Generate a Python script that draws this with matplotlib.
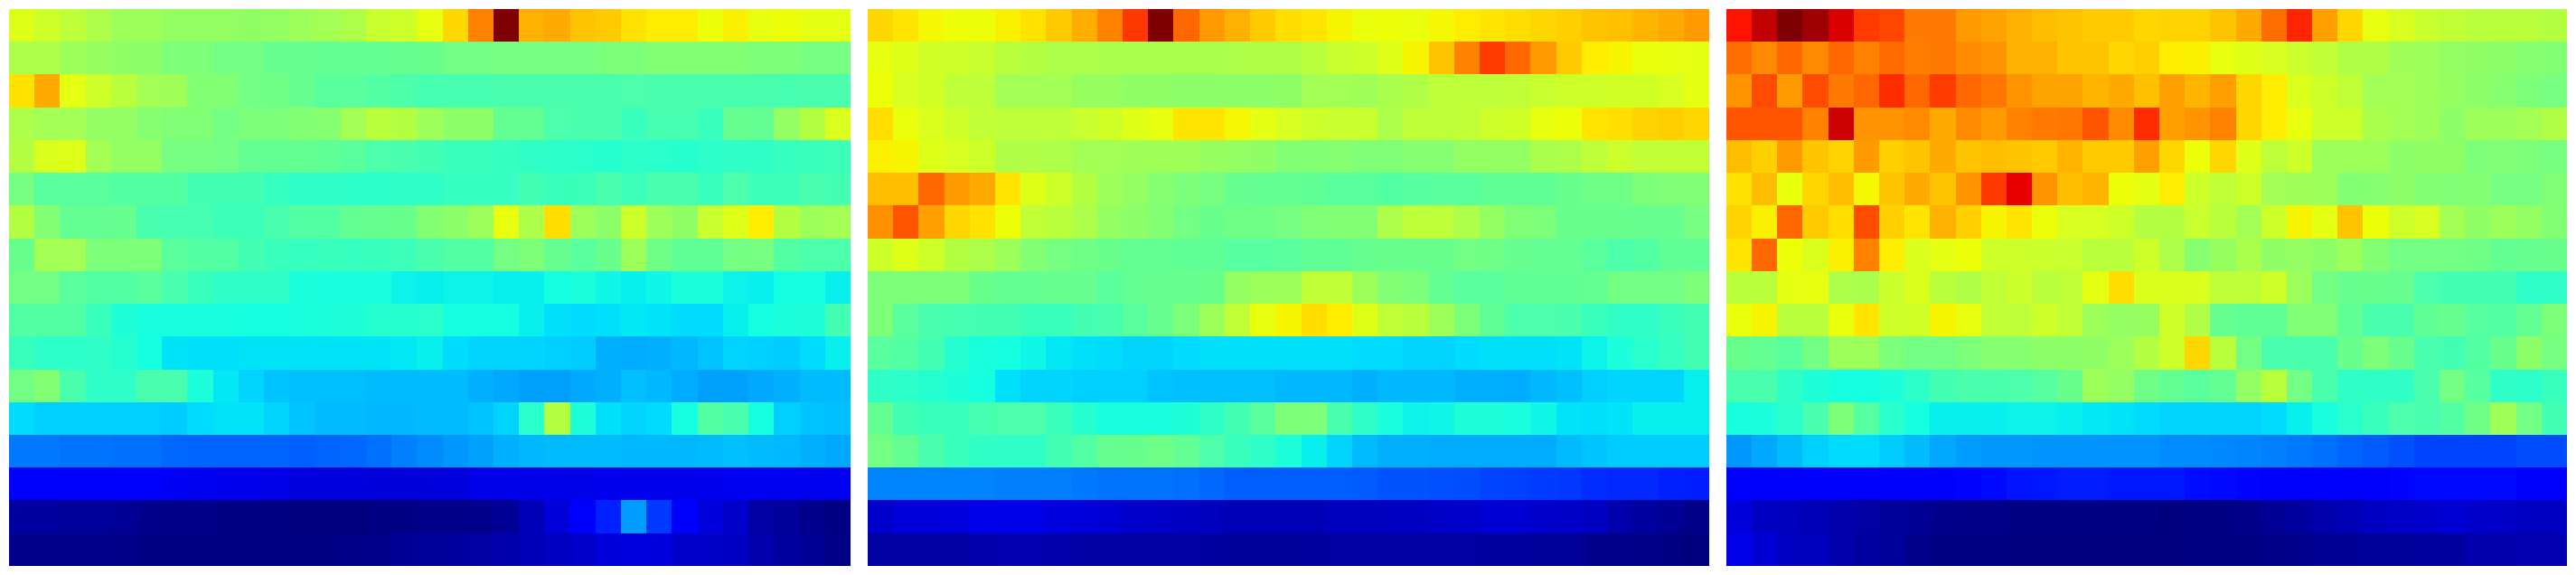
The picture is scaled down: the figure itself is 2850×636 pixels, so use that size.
import numpy as np
import matplotlib
matplotlib.use('Agg')
import matplotlib.pyplot as plt

# values, 0-100 on the jet scale, one list per row
panel_a = [
    [62,60,58,56,54,54,53,53,53,52.5,53,54,55,56,59,60,63, 68,77,100,72,73,70,69.5,67,66,66,64,65.5,63,64,62.5,62.5],
    [56,56,54,53.5,52.5,52,50,50,49,49,47.5,47.5,47,47,47,47.5,48, 49,49,49.5,49.5,49.5,49.5,50,50,51,51,51,51,50,50,49.5,49.5],
    [67,73,62.5,60,57.5,55,54.5,51,51,49,48.5,47.5,46,46,45,44.5,43.5, 43.5,43.5,44,44,44,44,44,44.5,44,44,44,44,44,43.5,44,44],
    [56,55,55,53,53,51.5,50.5,50.5,49,50,50,51,51.5,55,57.5,57,54, 52,52,47,47,44.5,44,44,42,43.5,43.5,42,47.5,47,53,57,61.5],
    [57,61.5,62,55,53,53,49.5,49.5,49,47,47,47,46.5,46,44.5,44,43, 42,42,41.5,41,40.5,40,39.5,40.5,40,39.5,40.5,41,41,41.5,42,42.5],
    [49.5,46,46,46,45,45,45,43,43,43,41.5,41,41,40.5,40.5,41,41, 41.5,41.5,41.5,43,42,42.5,44,42.5,44,44,42,44.5,42.5,42.5,44,43],
    [57,51,47,47,47.5,44,43.5,43.5,42.5,42.5,44,45,45,47,47.5,48,51, 52,54,63,56,67.5,54,52,60,54,52.5,59,62,66,57,54,55],
    [48,55,55,50,50,50,46,45,45,43,42,41.5,42,41.5,42,42.5,44, 45,45,49,50,47.5,46,48,54,48.5,46.5,46.5,49,49.5,45,44.5,44.5],
    [49,49,46,45,45,46,44,42,41,41,41,38.5,38,38,38,36.5,36, 36.5,36.5,36,36,37.5,38.5,37,36,37,38.5,38.5,36.5,36,37.5,37.5,36],
    [45,45,45,42,39,38,38,38,38,37.5,37.5,38,38.5,39,39.5,39.5,40, 37.5,37.5,37.5,36,34.5,34,34.5,35.5,35,34,34,36,37.5,38.5,39,43],
    [42,40.5,40.5,41,39.5,37.5,35,34.5,34.5,35,35,35,35,35,35,35.5,36, 34,33.5,33.5,33.5,33,32.5,30,29.5,30,30.5,32,33.5,33,32.5,34,36],
    [49,51,44,41,41,44,44,38.5,35.5,33.5,32,31.5,31.5,31.5,31,31,31, 31,30,29,28.5,28.5,29,30,31.5,30.5,29.5,28.5,28.5,29,30,31,31],
    [34,33,33,33,33,33,32.5,34,35,35,33.5,32,31,31,30.5,30.5,31, 31,32,33.5,40,57,39,34.5,33.5,34,37.5,45,44,37.5,33,32,31.5],
    [24.5,24.5,24,24,23.5,23.5,23,22.5,22.5,22.5,22.5,22,22.5,23,23.5,25,26.5, 27.5,28.5,30,30.5,31,31,31,30.5,30.5,30.5,31,31.5,31,30.5,30,29],
    [12.5,12,11,11,11,11,10.5,10,9.5,9.5,9,8.5,8.5,8.5,8,8,8, 8.5,9,9,9,9,9,9.5,9.5,9.5,9.5,9.5,10,10,10,10,10],
    [3,2.8,2.5,2.5,2,1.2,1,1,0.5,0.5,0.5,0,0,0,0.5,0.5,1, 1,1.5,2,5,8,11.5,16,28,18,11,8,7,3.5,2.5,1.5,0.5],
    [1.5,1.5,1.5,1.2,1,0.5,0.5,0.5,0.5,0.5,0.5,0.5,0.5,1,1.5,2,2.5, 3,3.5,4,5,6,7,8,8.5,8,7,6.5,6,4,3,2,1],
]

panel_b = [
    [68,66.5,64.5,64,64,65.5,67,69.5,72.5,77,85,100,80,74.5,72,69.5,67.5, 66.5,65,63.5,64,63.5,64.5,66,66.5,67.5,68,69,70,70.5,71.5,73,74.5],
    [63,62,60.5,60,59,57.5,57,56,56,55.5,55.5,55.5,55.5,55.5,56,56.5,56.5, 57.5,59,60,62,65,70,77,84.5,80,74.5,69.5,66,65,63.5,63,62.5],
    [64,61,60.5,58,58,55,55,55,53.5,53.5,52.5,52.5,52,52,52,52,52.5, 55,55,54.5,55.5,56.5,58,58,58,58.5,59,60,60,60.5,60.5,61,62.5],
    [67.5,63.5,61.5,60,58.5,58,58,58,59,60.5,62,63,66.5,66.5,64.5,62.5,61, 60,59,59,56,58,58,58.5,60,60.5,63,64,66.5,67.5,68.5,69,68],
    [65.5,65,62,61,60,56.5,56.5,56,55,55,54.5,54.5,54.5,53.5,53,52.5,51, 51,51.5,50.5,50.5,51.5,51.5,53,53,53,55.5,56,58,59.5,58.5,58.5,58.5],
    [71,71,80,74.5,73,66.5,62,60,57,54,53,51.5,50,49.5,47.5,47,47, 46.5,46,46,45,45.5,46,46,46.5,46.5,46.5,48,48.5,48.5,50,50.5,50.5],
    [75.5,82,74,68,67,64,58.5,57.5,56,53,52,51,49,48,48.5,48.5,49.5, 50.5,51,51,56,58,58,56,53,50.5,50,48,48,48,47.5,47.5,49.5],
    [60,62,60,57,56,54,51,49.5,48.5,48,47,47,46.5,46.5,45.5,45.5,46, 46.5,46.5,47.5,48,48,48,49,48.5,47.5,47,47,46,44.5,45,46.5,46.5],
    [50,50,50,50,48,47,47,47.5,47.5,46,47,47.5,47.5,48,53,54,54, 58.5,58.5,54,51,50,47,46,46,46.5,46.5,46.5,47,49,49,49,50],
    [50,46,44,43.5,43,43,42,42,43,44,46,47.5,50,54,58.5,63,65, 67.5,66,62,58.5,57.5,54,50,46.5,44.5,44.5,44,42,41,41,42,43],
    [46,45,43,39.5,38,37.5,37,35.5,34.5,34,33.5,33.5,34,34.5,34.5,34.5,34.5, 34.5,34.5,34,34,33.5,33.5,34,34.5,34.5,34.5,35,36.5,38.5,40,41.5,43],
    [41,40.5,39.5,39,37.5,34.5,33.5,33.5,33,33,33,32,31.5,31.5,31.5,31.5,30.5, 30.5,30.5,30,30.5,30.5,30.5,30,30,29.5,30.5,31.5,33,33.5,33.5,33.5,36],
    [47,43,42,42,43.5,44.5,44.5,42,39.5,38,38,38,39,41,43,46,50, 50,44,41,38,36.5,37,39,39,38,37,35,34.5,35,36,36,36],
    [49,47,44,42,41,41,41,43,45,47.5,48,48.5,47,44.5,42,41,38.5, 36,33.5,31,30,30,29.5,29.5,29.5,29.5,29.5,31,32,32.5,32.5,32.5,32.5],
    [25.5,25.5,25.5,25.5,25.5,25,25,25,24.5,24,24,24,23.5,23,22,22,22, 22,22,21.5,21,21,20.5,20,19.5,19,18.5,18,17,16.5,16.5,16,15.5],
    [7,8,8,8.5,9,9,9,8.5,8,7.5,7,6.5,6,5.5,5,5,5, 5,5.5,5.5,6,6,6.5,7,7.5,7.5,7,6.5,6,4,3,2,1],
    [3.5,3.5,3.5,3.5,4,4.5,4.5,4,3.5,3.5,3.5,3.5,3.5,3,2.5,2.5,2.5, 3,3.5,3.5,3.5,3.5,3.5,3.5,3,3,2.5,2.5,1.5,1.5,1,0.5,0],
]

panel_c = [
    [89,94,100,97,92,84.5,83.5,78,78,74.5,73.5,72,71,70,69.5,69.5,68, 68.5,68.5,70,73,79,87,74,68,63,61,59,58.5,57.5,57.5,57.5,57],
    [79,76.5,80,76.5,80,77,79.5,77.5,78,76,75,72,72,70,70,68,69, 66,65.5,63,62,61,59.5,58.5,56.5,56.5,54.5,54,53,52.5,52,51.5,51],
    [75,82.5,74.5,82.5,78,80,86,80,84.5,80,78.5,75,73.5,73.5,71.5,73,70.5, 74,71.5,74,68,66,61.5,60,58.5,55,55,54,53.5,52,51.5,50,49.5],
    [82,82,82,77,93,75,75,76,73,76,74.5,77,78,78.5,82,76.5,86, 74,75,77,68,66,63,60,60,55.5,55,54,52,54,54,55,56.5],
    [71,69,74.5,70,68.5,74.5,69,70,73,70,71,70,69.5,71.5,69.5,69.5,74, 68,64,68,62,58,60,54,54,54,52,52.5,52.5,50,50.5,50,49.5],
    [67,71,63.5,68,71,64.5,70,73,70,75,85,91,75,71,71.5,64,62.5, 66,60,58.5,60,55,54.5,54,51,51.5,52,51,50.5,51,49.5,49.5,50.5],
    [68.5,65.5,80,69.5,67.5,82.5,69,66.5,72,69,65,66.5,64,61,61,60,57, 57,59,57.5,55,60,65,62.5,70,64,60,61,55,52.5,54,53,51],
    [66.5,80,64,61.5,65.5,77,66,61.5,62.5,64,60,60,59.5,59,57.5,57.5,60, 56,51.5,53.5,55.5,52.5,53,52,54,51,49,49,49,48.5,47,47.5,48],
    [57.5,57.5,62.5,63,56,55.5,59.5,61.5,57.5,56.5,58.5,59.5,57.5,58.5,62.5,67.5,61.5, 61.5,61.5,58,58,60,54,49,47.5,48,47.5,44.5,43,43,43,41,41],
    [63.5,65,57.5,57.5,63.5,66.5,60,60.5,65,63,58.5,58,60,58.5,54,53,53.5, 60,56.5,47.5,46.5,46.5,50.5,50.5,46.5,44,44,46.5,47.5,45.5,45,47,50],
    [48,47,46,49,54,54,50,49,49,50,51.5,51.5,52,52,52.5,54,57, 60,68,57.5,49,44,44,44,48,50,48,44,43,45,48,52,49.5],
    [44,44,41,39,37.5,37.5,38.5,40.5,43,44,44,44.5,45.5,48,54,53,48.5, 47,46,47,53,57.5,49,44,41,41,41,44,49,45.5,41,40.5,42],
    [38,38.5,40,44,50,45.5,40,37.5,36,36,36,36.5,36.5,36,35.5,35,34, 33.5,33.5,33.5,33.5,34,36,38,40,42,44.5,44,45,48.5,54.5,49,43],
    [27.5,29,31,33,34,34,32.5,31,29,28,27.5,27.5,27,27,27,27,27, 26.5,26.5,26,25.5,25,24.5,23.5,22.5,21.5,20.5,19.5,19.5,19.5,19.5,20,20],
    [12.5,12,11.5,11.5,11,11,11.5,12,12.5,13,13.5,14.5,15,15.5,15.5,15,15, 15,14,13.5,13,12.5,12.5,12.5,12.5,12.5,13,13.5,13.5,13.5,13.5,12.5,12.5],
    [8,6,5.5,5,4,3.5,2.5,2,1.5,1,1,0.5,0.5,0.5,0.5,0.5,0.5, 0,0.5,0.5,1,2,3,4,5,6,6.5,7,7.5,7,6.5,6,6],
    [9,7.5,6,5.5,4,3,2.5,1.5,0.5,0.5,0.5,0,0,0,0,0,0, 0,0.5,0.5,0.5,1,1.5,2,2,2.5,2.5,3,3,4,4,4.5,4.5],
]

fig_w = 2850
fig_h = 636
fig = plt.figure(figsize=(fig_w / 100, fig_h / 100), dpi=100)

# left edge of each panel in pixels
for panel, left in [(panel_a, 10), (panel_b, 960), (panel_c, 1910)]:
    ax = fig.add_axes([left / fig_w, 10 / fig_h, 930 / fig_w, 616 / fig_h])
    ax.imshow(np.array(panel), cmap='jet', vmin=0, vmax=100, aspect='auto', interpolation='nearest')
    ax.axis('off')

plt.savefig('out.png', dpi=100)
